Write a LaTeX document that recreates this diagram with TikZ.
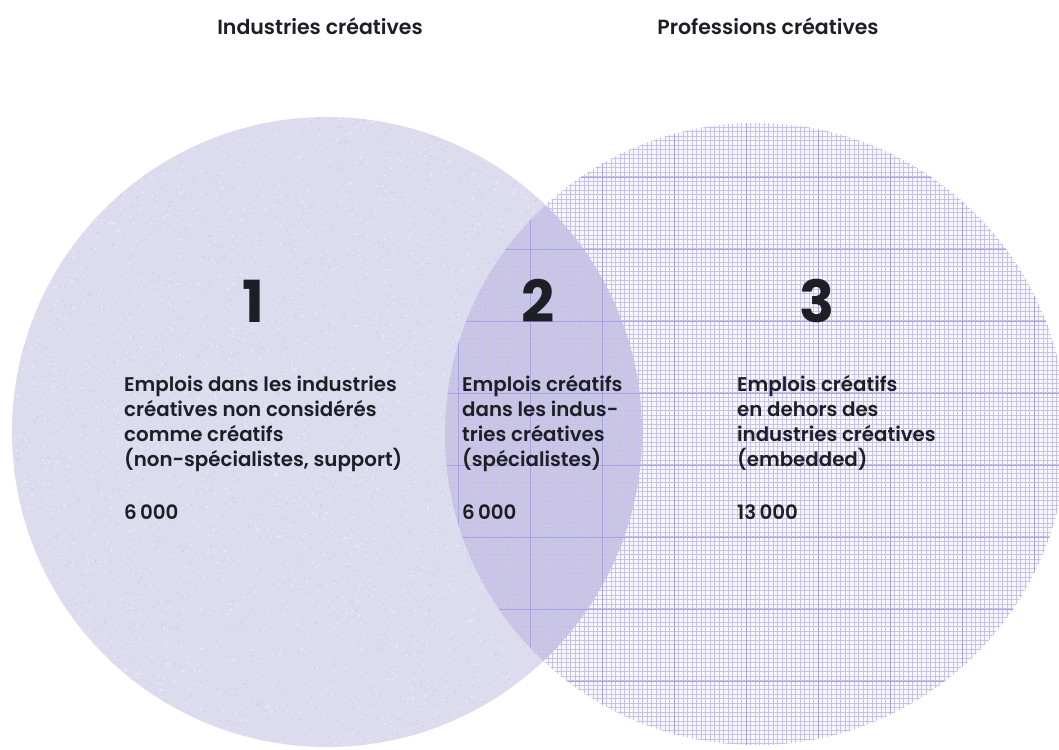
\documentclass[tikz,border=0pt]{standalone}
\usepackage{fontspec}
\setmainfont{Poppins}[UprightFont={* SemiBold}, BoldFont={* Bold}]
\definecolor{lav}{HTML}{DDDBEE}
\definecolor{lavlight}{HTML}{EDECF6}
\definecolor{lavdeep}{HTML}{D0CDE6}
\definecolor{overlapfill}{HTML}{C4C0E0}
\definecolor{paper}{HTML}{F8F8FC}
\definecolor{gridminor}{HTML}{C6C3EB}
\definecolor{gridmajor}{HTML}{A9A3E0}
\definecolor{ink}{HTML}{1E1E26}
\tikzset{
  heading/.style={text=ink, inner sep=0pt, anchor=base, font=\fontsize{20.5}{23}\selectfont},
  bignum/.style={text=ink, inner sep=0pt, anchor=center, font=\fontsize{58}{58}\selectfont\bfseries},
  blocktext/.style={text=ink, inner sep=0pt, anchor=base west, align=left, font=\fontsize{19.8}{25}\selectfont},
  count/.style={text=ink, inner sep=0pt, anchor=west, font=\fontsize{19.8}{25}\selectfont},
  minorline/.style={draw=gridminor, line width=0.65pt},
  majorline/.style={draw=gridmajor, line width=0.9pt},
}
\begin{document}
\begin{tikzpicture}[x=1pt, y=-1pt]
\useasboundingbox[fill=white] (0,0) rectangle (1059,749);

\coordinate (L) at (327,432);
\coordinate (R) at (756,434);

% right set: paper base
\fill[paper] (R) circle (311pt);

% left set: speckled lavender disc
\fill[lav] (L) circle (315pt);
\begin{scope}
  \clip (L) circle (315pt);
  \pgfmathsetseed{4242}
  \foreach \i in {1,...,3500}{
    \fill[lavlight] ({12+630*rnd},{117+630*rnd}) circle (0.9pt);
  }
  \foreach \i in {1,...,2000}{
    \fill[lavdeep] ({12+630*rnd},{117+630*rnd}) circle (0.8pt);
  }
\end{scope}

% intersection darkened
\begin{scope}
  \clip (L) circle (315pt);
  \fill[overlapfill, opacity=0.75] (R) circle (311pt);
\end{scope}

% graph-paper grid on the right set
\begin{scope}
  \clip (R) circle (311pt);
  \foreach \k in {0,...,140}{
    \draw[minorline] ({440+4.5*\k},118) -- ({440+4.5*\k},750);
    \draw[minorline] (440,{118+4.5*\k}) -- (1070,{118+4.5*\k});
  }
  \foreach \m in {0,...,8}{
    \draw[majorline] ({458+72*\m},118) -- ({458+72*\m},750);
    \draw[majorline] (440,{105+72*\m}) -- (1070,{105+72*\m});
  }
\end{scope}

% headings
\node[heading] (hL) at (320,35) {Industries créatives};
\node[heading] (hR) at (768,35) {Professions créatives};

% region numbers
\node[bignum] (n1) at (253,301) {1};
\node[bignum] (n2) at (538,301) {2};
\node[bignum] (n3) at (817,301) {3};

% region descriptions (anchored on the last line's baseline)
\node[blocktext] (b1) at (124,466) {Emplois dans les industries\\créatives non considérés\\comme créatifs\\(non-spécialistes, support)};
\node[blocktext] (b2) at (462,466) {Emplois créatifs\\dans les indus-\\tries créatives\\(spécialistes)};
\node[blocktext] (b3) at (737,466) {Emplois créatifs\\en dehors des\\industries créatives\\(embedded)};

% job counts
\node[count] (c1) at (124,512) {6\,000};
\node[count] (c2) at (462,512) {6\,000};
\node[count] (c3) at (737,512) {13\,000};
\end{tikzpicture}
\end{document}
